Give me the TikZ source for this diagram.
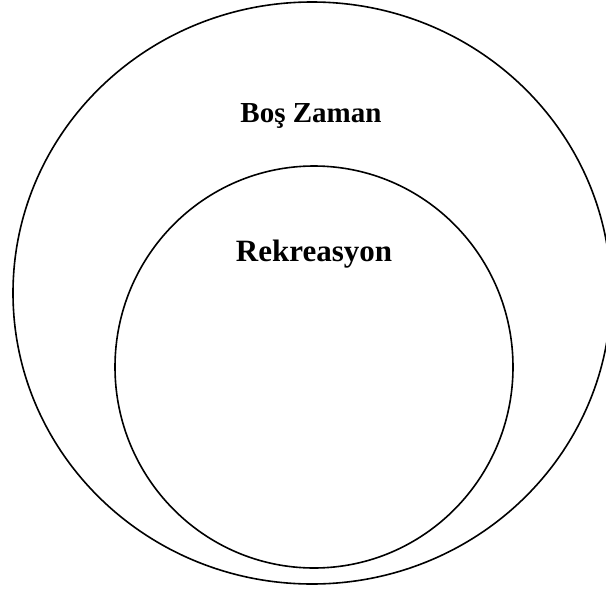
\documentclass[tikz,border=0pt]{standalone}
\usepackage{fontspec}
\setmainfont{Liberation Serif}
\begin{document}
\begin{tikzpicture}[x=1pt,y=-1pt,
  ring/.style={draw=black,line width=1.6pt},
  lbl/.style={anchor=base,font=\bfseries,inner sep=0pt}]
\useasboundingbox (0,0) rectangle (606,592);
\clip (0,0) rectangle (606,592);
\draw[ring] (312,293) ellipse [x radius=299, y radius=291];
\draw[ring] (314,367) ellipse [x radius=199, y radius=201];
\node[lbl,font=\bfseries\fontsize{29}{33}\selectfont] (bos) at (311,122) {Boş Zaman};
\node[lbl,font=\bfseries\fontsize{31}{35}\selectfont] (rek) at (314,261) {Rekreasyon};
\end{tikzpicture}
\end{document}
